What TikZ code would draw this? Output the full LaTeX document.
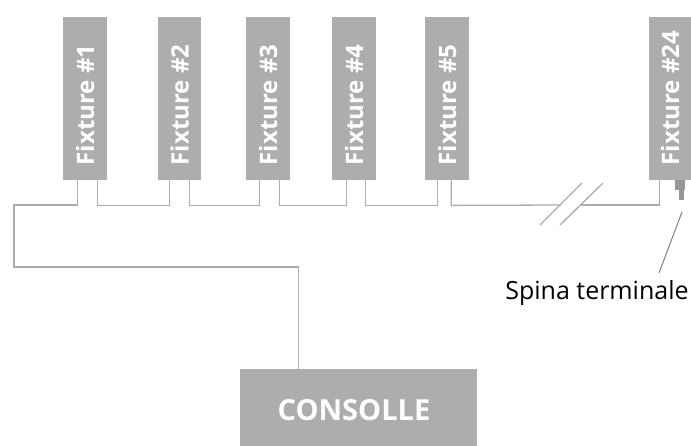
\documentclass[tikz,border=0pt]{standalone}
\usepackage{fontspec}
\setmainfont{Open Sans}
\definecolor{boxgray}{RGB}{173,173,173}
\definecolor{wiregray}{RGB}{172,172,172}
\definecolor{pluggray}{RGB}{150,150,150}
\begin{document}
\begin{tikzpicture}[x=1pt,y=-1pt,
  fixbox/.style={fill=boxgray, draw=none, minimum width=44pt, minimum height=163pt, anchor=north west, inner sep=0pt},
  wire/.style={draw=wiregray, line width=1.3pt},
  flabel/.style={text=white, font=\bfseries\fontsize{24}{24}\selectfont, rotate=90, anchor=west, inner sep=0pt}]
\useasboundingbox (0,0) rectangle (691,446);

% fixtures
\node[fixbox] (f1) at (63,17) {};
\node[fixbox, minimum width=43pt] (f2) at (158,17) {};
\node[fixbox] (f3) at (246,17) {};
\node[fixbox] (f4) at (332,17) {};
\node[fixbox] (f5) at (425,17) {};
\node[fixbox, minimum width=42pt] (f24) at (649,17) {};
\node[flabel] at ([xshift=0pt,yshift=15pt]f1.south) {Fixture \#1};
\node[flabel] at ([xshift=0pt,yshift=15pt]f2.south) {Fixture \#2};
\node[flabel] at ([xshift=0pt,yshift=15pt]f3.south) {Fixture \#3};
\node[flabel] at ([xshift=0pt,yshift=15pt]f4.south) {Fixture \#4};
\node[flabel] at ([xshift=0pt,yshift=15pt]f5.south) {Fixture \#5};
\node[flabel] at ([xshift=0pt,yshift=15pt]f24.south) {Fixture \#24};

% console
\node[fill=boxgray, draw=none, minimum width=237pt, minimum height=78pt, anchor=north west, inner sep=0pt] (con) at (240,369) {};
\node[text=white, font=\bfseries\fontsize{29}{29}\selectfont, inner sep=0pt] at (354,410) {CONSOLLE};

% wires
\draw[wire] ([xshift=-8pt]f1.south) |- (14,205) -- (14,267) -| ([xshift=-60pt]con.north);
\draw[wire] ([xshift=12pt]f1.south) -- ++(0,25) -| ([xshift=-10.5pt]f2.south);
\draw[wire] ([xshift=9.5pt]f2.south) -- ++(0,25) -| ([xshift=-9pt]f3.south);
\draw[wire] ([xshift=11pt]f3.south) -- ++(0,25) -| ([xshift=-8pt]f4.south);
\draw[wire] ([xshift=11pt]f4.south) -- ++(0,25) -| ([xshift=-10pt]f5.south);
\draw[wire] ([xshift=4pt]f5.south) -- ++(0,25) -- (561,205);
\draw[wire] (581,205) -| ([xshift=-11pt]f24.south);
% break marks
\draw[wire] (540,225) -- (582,183);
\draw[wire] (560,225) -- (603,183);

% terminal plug
\fill[pluggray] (675,180) rectangle (685,190);
\fill[pluggray] (679,190) rectangle (684,200);
\coordinate (plugtip) at (682,212);
\node[font=\fontsize{25}{25}\selectfont, anchor=base, inner sep=0pt] (spina) at (597,300) {Spina terminale};
\coordinate (leadend) at (659,273);
\draw[wire, line width=1pt, draw=gray] (plugtip) -- (leadend);
\end{tikzpicture}
\end{document}
